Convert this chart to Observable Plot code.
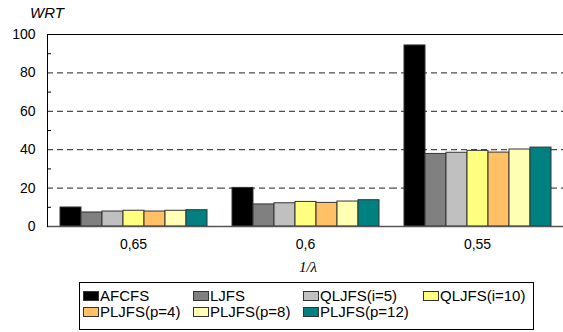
<!DOCTYPE html>
<html>
<head>
<meta charset="utf-8">
<script src="https://cdn.jsdelivr.net/npm/d3@7"></script>
<script src="https://cdn.jsdelivr.net/npm/@observablehq/plot@0.6"></script>
<style>
  html, body { margin: 0; padding: 0; background: #fff; }
  #wrap { position: relative; width: 563px; height: 332px; font-family: "Liberation Sans", Arial, sans-serif; }
  #wrap svg { position: absolute; left: 0; top: 0; }
  .ylab { position: absolute; left: 30px; top: 4px; font-size: 15px; font-style: italic; }
  .xlab { position: absolute; left: 258px; width: 100px; text-align: center; top: 259px; font-size: 15px; font-style: italic; font-family: "Liberation Serif", "Times New Roman", serif; }
  .legend { position: absolute; left: 79px; top: 282px; width: 453px; height: 46px; border: 1px solid #000; box-sizing: content-box; font-size: 15px; }
  .item { position: absolute; display: flex; align-items: center; white-space: nowrap; line-height: 16px; }
  .sw { width: 14px; height: 8px; border: 1px solid #333; margin-right: 1px; }
</style>
</head>
<body>
<div id="wrap"></div>
<script>
const cats = ["0,65", "0,6", "0,55"];
const series = ["AFCFS", "LJFS", "QLJFS(i=5)", "QLJFS(i=10)", "PLJFS(p=4)", "PLJFS(p=8)", "PLJFS(p=12)"];
const colors = ["#000000", "#808080", "#C0C0C0", "#FFFF80", "#FFC066", "#FFFFB3", "#008080"];
const AFCFS   = [9.9, 20.1, 94.3];
const LJFS    = [7.3, 11.5, 37.8];
const QLJFS5  = [7.8, 12.1, 38.4];
const QLJFS10 = [8.2, 12.8, 39.4];
const PLJFS4  = [7.8, 12.3, 38.5];
const PLJFS8  = [8.2, 13.0, 40.1];
const PLJFS12 = [8.5, 13.7, 41.1];
const yTicks = [0, 20, 40, 60, 80, 100];
const yMinor = [10, 30, 50, 70, 90];
const gridTicks = [20, 40, 60, 80];

const valueLists = [AFCFS, LJFS, QLJFS5, QLJFS10, PLJFS4, PLJFS8, PLJFS12];
const data = [];
cats.forEach((c, ci) => series.forEach((s, si) => data.push({cat: c, series: s, value: valueLists[si][ci]})));

const chart = Plot.plot({
  width: 563,
  height: 282,
  marginLeft: 46,
  marginRight: 0,
  marginTop: 34,
  marginBottom: 56,
  style: {fontFamily: "'Liberation Sans', Arial, sans-serif", background: "transparent"},
  fx: {domain: cats, padding: 0, label: null},
  x: {domain: series, paddingInner: 0, paddingOuter: 0.57, axis: null},
  y: {domain: [0, 100], label: null},
  color: {domain: series, range: colors},
  marks: [
    Plot.ruleY(gridTicks, {stroke: "#222", strokeDasharray: "6,4"}),
    Plot.ruleY([100], {stroke: "#000"}),
    Plot.barY(data, {fx: "cat", x: "series", y: "value", fill: "series", stroke: "#333", strokeWidth: 1}),
    Plot.ruleY([0], {stroke: "#555", strokeWidth: 1.5}),
    Plot.axisY({ticks: yTicks, tickSize: 0, tickPadding: 12, fontSize: 14, label: null, color: "#000"}),
    Plot.axisY({ticks: yMinor, tickSize: -4, tickFormat: () => "", label: null, color: "#000"}),
    Plot.axisFx({anchor: "bottom", tickSize: 0, tickPadding: 13, fontSize: 14, label: null, color: "#000"}),
    Plot.frame({anchor: "left", facetAnchor: "left", stroke: "#000"})
  ]
});

const wrap = document.getElementById("wrap");
wrap.appendChild(chart);

const yl = document.createElement("div");
yl.className = "ylab"; yl.textContent = "WRT";
wrap.appendChild(yl);
const xl = document.createElement("div");
xl.className = "xlab"; xl.textContent = "1/λ";
wrap.appendChild(xl);

const legend = document.createElement("div");
legend.className = "legend";
const colX = [3, 113, 223, 343];
series.forEach((s, i) => {
  const it = document.createElement("div");
  it.className = "item";
  it.style.left = colX[i % 4] + "px";
  it.style.top = (i < 4 ? 5 : 21) + "px";
  const sw = document.createElement("span");
  sw.className = "sw"; sw.style.background = colors[i];
  it.appendChild(sw);
  it.appendChild(document.createTextNode(s));
  legend.appendChild(it);
});
wrap.appendChild(legend);
</script>
</body>
</html>
